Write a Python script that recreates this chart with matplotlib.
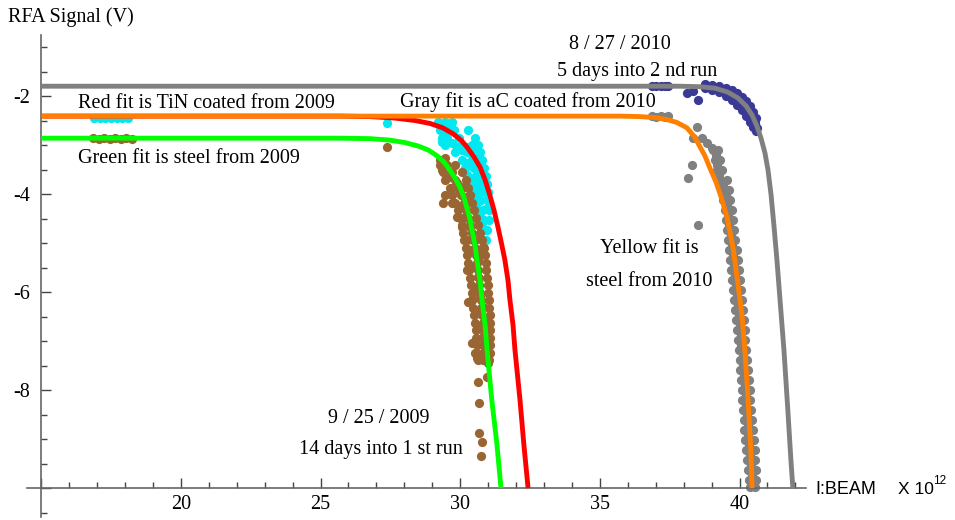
import matplotlib
matplotlib.use('Agg')
import matplotlib.pyplot as plt

plt.rcParams['axes.unicode_minus'] = False
SERIF = 'Liberation Serif'
SANS = 'Liberation Sans'

# ---------------- fitted curves ----------------
gray_fit_x = [15.0, 37.86, 38.58, 39.12, 39.58, 39.94, 40.23, 40.45, 40.62, 40.77, 40.91,
              41.02, 41.13, 41.23, 41.34, 41.45, 41.59, 41.73, 41.84, 41.91]
gray_fit_y = [-1.80, -1.80, -1.81, -1.84, -1.92, -2.04, -2.20, -2.39, -2.61, -2.86, -3.16,
              -3.51, -4.02, -4.63, -5.35, -6.16, -7.18, -8.41, -9.43, -10.0]

orange_fit_x = [15.0, 35.72, 36.43, 36.97, 37.40, 37.76, 38.12, 38.37, 38.55, 38.76, 38.94,
                39.16, 39.34, 39.55, 39.77, 39.94, 40.09, 40.19, 40.27, 40.34, 40.41, 40.45]
orange_fit_y = [-2.41, -2.41, -2.42, -2.44, -2.48, -2.54, -2.65, -2.82, -3.00, -3.22, -3.47,
                -3.76, -4.06, -4.47, -5.10, -5.82, -6.49, -7.18, -7.86, -8.55, -9.27, -10.0]

red_fit_x = [15.0, 25.70, 26.77, 27.66, 28.38, 28.92, 29.38, 29.74, 30.03, 30.24, 30.49,
             30.71, 30.89, 31.06, 31.21, 31.35, 31.49, 31.60, 31.71, 31.78, 31.89, 31.96,
             32.14, 32.28, 32.43]
red_fit_y = [-2.41, -2.41, -2.42, -2.45, -2.50, -2.56, -2.65, -2.77, -2.90, -3.04, -3.24,
             -3.45, -3.71, -4.02, -4.33, -4.67, -5.04, -5.35, -5.76, -6.16, -6.67, -7.18,
             -8.20, -9.12, -10.0]

green_fit_x = [15.0, 25.70, 26.77, 27.48, 28.02, 28.49, 28.85, 29.17, 29.42, 29.63, 29.81,
               29.99, 30.13, 30.24, 30.35, 30.42, 30.53, 30.60, 30.71, 30.78, 30.89, 30.96,
               31.13, 31.31, 31.46]
green_fit_y = [-2.86, -2.86, -2.87, -2.90, -2.95, -3.02, -3.10, -3.22, -3.35, -3.51, -3.67,
               -3.86, -4.06, -4.29, -4.51, -4.73, -5.04, -5.35, -5.76, -6.16, -6.67, -7.18,
               -8.20, -9.08, -10.0]

# ---------------- measured points ----------------
cyan_x = [16.90, 17.10, 17.30, 17.50, 17.70, 17.90, 18.10, 27.39,
          29.27, 29.56, 29.38, 29.53, 29.35, 29.71, 29.88, 30.06, 30.24, 30.42,
          30.53, 30.35, 30.60, 30.71, 30.28, 30.46, 30.71, 30.24, 30.42, 30.81,
          30.60, 30.89, 30.96, 30.64, 30.60, 30.99, 30.71, 30.78, 30.81]
cyan_y = [-2.44, -2.45, -2.44, -2.45, -2.44, -2.45, -2.44, -2.55,
          -2.59, -2.65, -2.73, -2.86, -2.94, -2.96, -3.04, -3.10, -3.04, -3.00,
          -3.06, -3.16, -3.24, -3.31, -3.37, -3.45, -3.51, -3.61, -3.67, -3.67,
          -3.82, -3.86, -3.98, -4.06, -4.18, -4.27, -4.39, -4.59, -4.73]
cyan_band_y = [-2.53, -2.69, -2.86, -3.00, -3.14, -3.31, -3.47, -3.63, -3.80, -3.96,
               -4.12, -4.33, -4.53, -4.73, -4.94]
cyan_band_left_x = [29.20, 29.27, 29.35, 29.45, 29.81, 30.06, 30.17, 30.24, 30.35, 30.46,
                    30.53, 30.60, 30.67, 30.74, 30.81]
cyan_band_mid_x = [29.45, 29.77, 29.94, 30.05, 30.26, 30.42, 30.51, 30.58, 30.65, 30.72,
                   30.76, 30.81, 30.85, 30.85, 30.86]
cyan_band_right_x = [29.70, 30.28, 30.53, 30.64, 30.71, 30.78, 30.85, 30.92, 30.96, 30.99,
                     30.99, 31.03, 31.03, 30.96, 30.92]

brown_x = [16.85, 17.05, 17.25, 17.45, 17.65, 17.85, 18.05, 18.25, 27.39,
           29.27, 29.45, 29.35, 29.53, 29.88, 30.10, 29.71, 29.99, 29.45, 30.24,
           29.38, 29.71, 29.99, 29.88, 30.17, 30.06, 30.35, 30.24, 30.53, 30.35,
           30.71, 30.81, 30.64, 30.24, 30.46, 30.64, 30.53, 30.71, 30.28, 30.42,
           30.81, 30.64, 30.89, 30.78, 30.81, 30.99, 30.42, 30.89, 30.53, 30.60,
           30.96, 30.99, 30.64, 30.96, 30.67, 30.67, 30.78, 30.74]
brown_y = [-2.86, -2.87, -2.86, -2.87, -2.86, -2.87, -2.86, -2.87, -3.04,
           -3.31, -3.27, -3.51, -3.67, -3.78, -3.86, -3.88, -3.96, -4.02, -4.06,
           -4.18, -4.18, -4.27, -4.47, -4.47, -4.67, -4.67, -4.94, -4.94, -5.14,
           -5.20, -5.08, -5.35, -5.55, -5.49, -5.69, -5.96, -6.10, -6.20, -6.16,
           -6.31, -6.43, -6.57, -6.71, -6.92, -6.84, -7.04, -7.12, -7.24, -7.35,
           -7.24, -7.45, -7.84, -7.73, -8.27, -8.88, -9.06, -9.35]
brown_band_y = [-3.41, -3.55, -3.71, -3.88, -4.02, -4.18, -4.33, -4.49, -4.63, -4.80,
                -4.94, -5.10, -5.24, -5.41, -5.55, -5.71, -5.86, -6.02, -6.16, -6.33,
                -6.47, -6.63, -6.78, -6.94, -7.08, -7.24, -7.39]
brown_band_left_x = [29.27, 29.38, 29.45, 29.63, 29.70, 29.81, 29.92, 29.99, 30.06, 30.10,
                     30.13, 30.20, 30.24, 30.28, 30.31, 30.35, 30.39, 30.42, 30.42, 30.46,
                     30.49, 30.53, 30.56, 30.56, 30.60, 30.60, 30.63]
brown_band_mid_x = [29.54, 29.72, 29.83, 29.96, 30.03, 30.12, 30.21, 30.28, 30.35, 30.41,
                    30.46, 30.53, 30.57, 30.60, 30.62, 30.66, 30.69, 30.71, 30.73, 30.75,
                    30.78, 30.80, 30.81, 30.81, 30.83, 30.83, 30.83]
brown_band_right_x = [29.81, 30.06, 30.20, 30.28, 30.35, 30.42, 30.49, 30.56, 30.63, 30.71,
                      30.78, 30.85, 30.89, 30.92, 30.92, 30.96, 30.99, 30.99, 31.03, 31.03,
                      31.06, 31.06, 31.06, 31.06, 31.06, 31.06, 31.03]

gray_pts_x = [36.86, 37.02, 37.18, 37.34, 37.45,
              38.48, 38.33, 38.66, 38.85, 39.01, 38.29, 38.15, 38.51]
gray_pts_y = [-2.41, -2.42, -2.41, -2.42, -2.41,
              -2.63, -2.86, -2.86, -2.96, -3.06, -3.41, -3.67, -4.63]

gray_band_y = [-3.10, -3.31, -3.51, -3.71, -3.92, -4.12, -4.33, -4.53, -4.73, -4.94,
               -5.14, -5.35, -5.55, -5.76, -5.96, -6.16, -6.37, -6.57, -6.78, -6.98,
               -7.18, -7.39, -7.59, -7.80, -8.00, -8.20, -8.41, -8.61, -8.82, -9.02,
               -9.22, -9.43, -9.63, -9.84, -9.98]
gray_band_left_x = [39.05, 39.12, 39.19, 39.30, 39.37, 39.41, 39.48, 39.52, 39.55, 39.59,
                    39.62, 39.66, 39.70, 39.73, 39.77, 39.80, 39.84, 39.87, 39.91, 39.94,
                    39.98, 40.01, 40.01, 40.05, 40.09, 40.09, 40.12, 40.16, 40.16, 40.19,
                    40.23, 40.26, 40.30, 40.33, 40.37]
gray_band_right_x = [39.23, 39.30, 39.37, 39.55, 39.62, 39.66, 39.73, 39.77, 39.80, 39.84,
                     39.91, 39.94, 39.98, 40.01, 40.05, 40.09, 40.12, 40.16, 40.19, 40.19,
                     40.23, 40.26, 40.30, 40.33, 40.37, 40.37, 40.41, 40.45, 40.48, 40.51,
                     40.55, 40.55, 40.58, 40.58, 40.55]
gray_band_mid_x = [39.14, 39.21, 39.28, 39.42, 39.50, 39.54, 39.60, 39.64, 39.68, 39.72,
                   39.77, 39.80, 39.84, 39.87, 39.91, 39.95, 39.98, 40.02, 40.05, 40.07,
                   40.11, 40.14, 40.16, 40.19, 40.23, 40.23, 40.27, 40.31, 40.32, 40.35,
                   40.39, 40.41, 40.44, 40.46, 40.46]
gray_band_mid_y = [-3.20, -3.41, -3.61, -3.81, -4.02, -4.22, -4.43, -4.63, -4.83, -5.04,
                   -5.24, -5.45, -5.65, -5.86, -6.06, -6.26, -6.47, -6.67, -6.88, -7.08,
                   -7.28, -7.49, -7.69, -7.90, -8.10, -8.30, -8.51, -8.71, -8.92, -9.12,
                   -9.32, -9.53, -9.73, -9.90, -9.95]

navy_pts_x = [36.86, 37.02, 37.18, 37.34, 37.45, 38.12, 38.33, 38.51]
navy_pts_y = [-1.79, -1.80, -1.79, -1.80, -1.79, -1.94, -1.90, -2.08]
navy_band_x = [38.76, 39.01, 39.26, 39.51, 39.73, 39.91, 40.09, 40.23, 40.37, 40.48, 40.59]
navy_band_top_y = [-1.76, -1.78, -1.80, -1.84, -1.88, -1.94, -2.02, -2.10, -2.20, -2.33, -2.45]
navy_band_bot_y = [-1.84, -1.88, -1.92, -2.00, -2.08, -2.18, -2.29, -2.41, -2.53, -2.63, -2.71]
navy_band_mid_x = [38.88, 39.13, 39.38, 39.62, 39.82, 40.00, 40.16, 40.30, 40.43, 40.54, 40.62]
navy_band_mid_y = [-1.82, -1.85, -1.89, -1.95, -2.02, -2.11, -2.21, -2.31, -2.43, -2.55, -2.66]

x_major = [15, 20, 25, 30, 35, 40]
x_labels = ['', '20', '25', '30', '35', '40']
y_major = [-10, -8, -6, -4, -2]
y_labels = ['', '-8', '-6', '-4', '-2']

# ---------------- figure ----------------
fig = plt.figure(figsize=(9.55, 5.2), dpi=100)
ax = fig.add_axes([27 / 955, 3 / 520, 779 / 955, 482 / 520])
ax.set_xlim(14.49, 42.38)
ax.set_ylim(-10.59, -0.755)

axis_col = '#666666'
for s in ['top', 'right']:
    ax.spines[s].set_visible(False)
ax.spines['left'].set_position(('data', 15))
ax.spines['bottom'].set_position(('data', -10))
for s in ['left', 'bottom']:
    ax.spines[s].set_color(axis_col)
    ax.spines[s].set_linewidth(1.2)

ax.set_xticks(x_major)
ax.set_xticklabels(x_labels, fontfamily=SERIF, fontsize=14.5)
ax.set_xticks([v for v in range(15, 43)], minor=True)
ax.set_yticks(y_major)
ax.set_yticklabels(y_labels, fontfamily=SERIF, fontsize=14.5)
ax.set_yticks([-10.5 + 0.5 * i for i in range(20)], minor=True)
ax.tick_params(which='major', direction='in', length=7, width=1, color='#444444')
ax.tick_params(which='minor', direction='in', length=4, width=1, color='#444444')
ax.tick_params(axis='x', which='major', pad=5)
ax.tick_params(axis='y', which='major', pad=8)

ms = 44
c_cyan, c_brown, c_gray, c_navy = '#00e8f0', '#996633', '#808080', '#3a3a96'
ax.scatter(cyan_x, cyan_y, s=ms, color=c_cyan, linewidths=0, zorder=2)
for bx in (cyan_band_left_x, cyan_band_mid_x, cyan_band_right_x):
    ax.scatter(bx, cyan_band_y, s=ms, color=c_cyan, linewidths=0, zorder=2)
ax.scatter(brown_x, brown_y, s=ms, color=c_brown, linewidths=0, zorder=2.1)
for bx in (brown_band_left_x, brown_band_mid_x, brown_band_right_x):
    ax.scatter(bx, brown_band_y, s=ms, color=c_brown, linewidths=0, zorder=2.1)
ax.scatter(gray_pts_x, gray_pts_y, s=ms, color=c_gray, linewidths=0, zorder=2)
ax.scatter(gray_band_left_x, gray_band_y, s=ms, color=c_gray, linewidths=0, zorder=2)
ax.scatter(gray_band_right_x, gray_band_y, s=ms, color=c_gray, linewidths=0, zorder=2)
ax.scatter(gray_band_mid_x, gray_band_mid_y, s=ms, color=c_gray, linewidths=0, zorder=2)
ax.scatter(navy_pts_x, navy_pts_y, s=ms, color=c_navy, linewidths=0, zorder=2)
ax.scatter(navy_band_x, navy_band_top_y, s=ms, color=c_navy, linewidths=0, zorder=2)
ax.scatter(navy_band_x, navy_band_bot_y, s=ms, color=c_navy, linewidths=0, zorder=2)
ax.scatter(navy_band_mid_x, navy_band_mid_y, s=ms, color=c_navy, linewidths=0, zorder=2)

lw = 3.5
ax.plot(gray_fit_x, gray_fit_y, color='#808080', lw=lw, zorder=3, solid_capstyle='butt')
ax.plot(green_fit_x, green_fit_y, color='#00ff00', lw=lw, zorder=3, solid_capstyle='butt')
ax.plot(red_fit_x, red_fit_y, color='#ff0000', lw=lw, zorder=3, solid_capstyle='butt')
ax.plot(orange_fit_x, orange_fit_y, color='#ff8000', lw=lw, zorder=4, solid_capstyle='butt')

tk = dict(fontfamily=SERIF, fontsize=14.5, color='black', va='center', ha='left', zorder=5)
ax.text(33.89, -0.94, '8 / 27 / 2010', **tk)
ax.text(33.46, -1.49, '5 days into 2 nd run', **tk)
ax.text(16.31, -2.16, 'Red fit is TiN coated from 2009', **tk)
ax.text(27.84, -2.12, 'Gray fit is aC coated from 2010', **tk)
ax.text(16.31, -3.27, 'Green fit is steel from 2009', **tk)
ax.text(35.00, -5.12, 'Yellow fit is', **tk)
ax.text(34.50, -5.78, 'steel from 2010', **tk)
ax.text(25.26, -8.57, '9 / 25 / 2009', **tk)
ax.text(24.23, -9.22, '14 days into 1 st run', **tk)

fig.text(8 / 955, 1 - 17 / 520, 'RFA Signal (V)', fontfamily=SERIF, fontsize=14.5,
         va='center', ha='left')
fig.text(815 / 955, 1 - 489 / 520, 'I:BEAM', fontfamily=SANS, fontsize=13,
         va='center', ha='left')
fig.text(898 / 955, 1 - 489 / 520, 'X 10', fontfamily=SANS, fontsize=12.5,
         va='center', ha='left')
fig.text(933 / 955, 1 - 481 / 520, '12', fontfamily=SANS, fontsize=8.5,
         va='center', ha='left')

fig.savefig('out.png', dpi=100)
